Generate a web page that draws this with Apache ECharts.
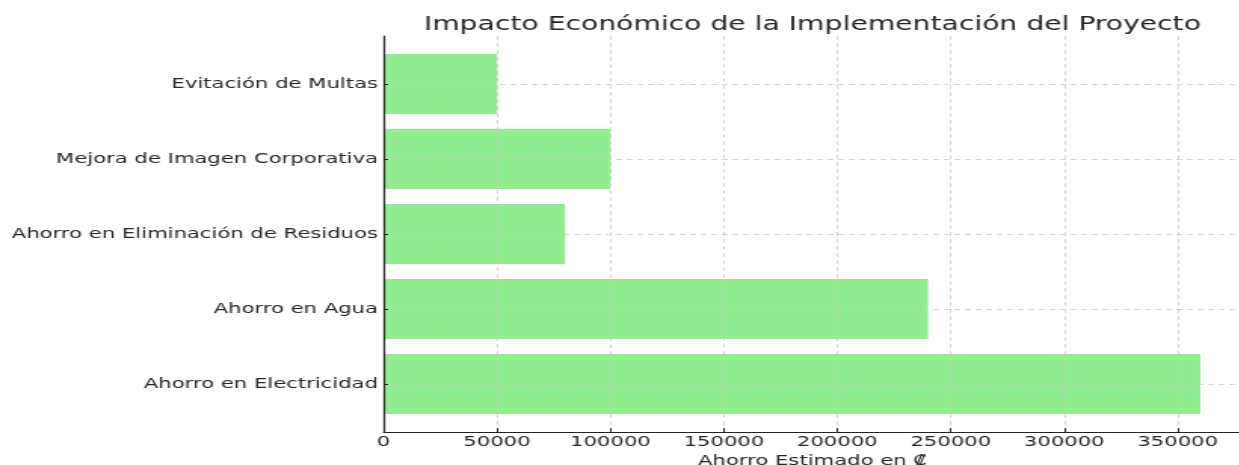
<!DOCTYPE html>
<html>
<head>
<meta charset="utf-8">
<script src="https://cdn.jsdelivr.net/npm/echarts@6/dist/echarts.min.js"></script>
<style>
  html, body { margin: 0; padding: 0; background: #fff; overflow: hidden; }
  #wrap { width: 1239px; height: 465px; overflow: hidden; }
  /* the chart is laid out narrower and widened horizontally */
  #chart { width: 821px; height: 465px; transform-origin: 0 0; transform: scaleX(1.51); }
</style>
</head>
<body>
<div id="wrap"><div id="chart"></div></div>
<script>
// bottom to top
const categories = [
  'Ahorro en Electricidad',
  'Ahorro en Agua',
  'Ahorro en Eliminación de Residuos',
  'Mejora de Imagen Corporativa',
  'Evitación de Multas'
];
const savings = [360000, 240000, 80000, 100000, 50000];

const titleText = 'Impacto Económico de la Implementación del Proyecto';
const xAxisName = 'Ahorro Estimado en ₡';
const xMin = 0, xMax = 378000, xStep = 50000;

const FONT = 'DejaVu Sans';
const TEXT = '#262626';
const GRID_LINE = { show: true, lineStyle: { color: '#cccccc', type: [4, 3], width: 0.8 } };

const chart = echarts.init(document.getElementById('chart'), null, { renderer: 'canvas' });

chart.setOption({
  animation: false,
  backgroundColor: '#fff',
  title: {
    text: titleText,
    left: 533,
    top: 11,
    textAlign: 'center',
    textStyle: { fontFamily: FONT, fontSize: 18.7, fontWeight: 'normal', color: TEXT }
  },
  grid: [
    // frame: spines, x ticks, vertical grid lines
    { left: 254, right: -1, top: 36, bottom: 33, containLabel: false, outerBoundsMode: 'none' },
    // bars: category centres from first to last
    { left: 254, right: -1, top: 84, bottom: 81, containLabel: false, outerBoundsMode: 'none' }
  ],
  xAxis: [
    {
      gridIndex: 0, type: 'value', min: xMin, max: xMax, interval: xStep, z: 5,
      axisLine: { show: true, lineStyle: { color: '#222', width: 1.2 } },
      axisTick: { show: true, inside: true, length: 4, lineStyle: { color: '#222' } },
      axisLabel: {
        show: true, margin: 3, fontFamily: FONT, fontSize: 14, color: TEXT, showMaxLabel: false,
        formatter: v => String(v)
      },
      splitLine: GRID_LINE,
      name: xAxisName, nameLocation: 'middle', nameGap: 15,
      nameTextStyle: { fontFamily: FONT, fontSize: 14, color: TEXT, verticalAlign: 'top' }
    },
    {
      gridIndex: 1, type: 'value', min: xMin, max: xMax, show: false
    }
  ],
  yAxis: [
    {
      gridIndex: 0, type: 'value', min: 0, max: 1, z: 5,
      axisLine: { show: true, lineStyle: { color: '#222', width: 1.2 } },
      axisTick: { show: false }, axisLabel: { show: false }, splitLine: { show: false }
    },
    {
      gridIndex: 1, type: 'category', data: categories, boundaryGap: false, z: 5,
      axisLine: { show: false },
      axisTick: { show: true, inside: true, length: 3, lineStyle: { color: '#222' } },
      axisLabel: { margin: 3.7, fontFamily: FONT, fontSize: 14, color: TEXT },
      splitLine: GRID_LINE
    }
  ],
  series: [{
    type: 'bar',
    xAxisIndex: 1,
    yAxisIndex: 1,
    data: savings,
    barWidth: '80%',
    itemStyle: { color: '#90ee90' },
    z: 2
  }]
});
</script>
</body>
</html>
